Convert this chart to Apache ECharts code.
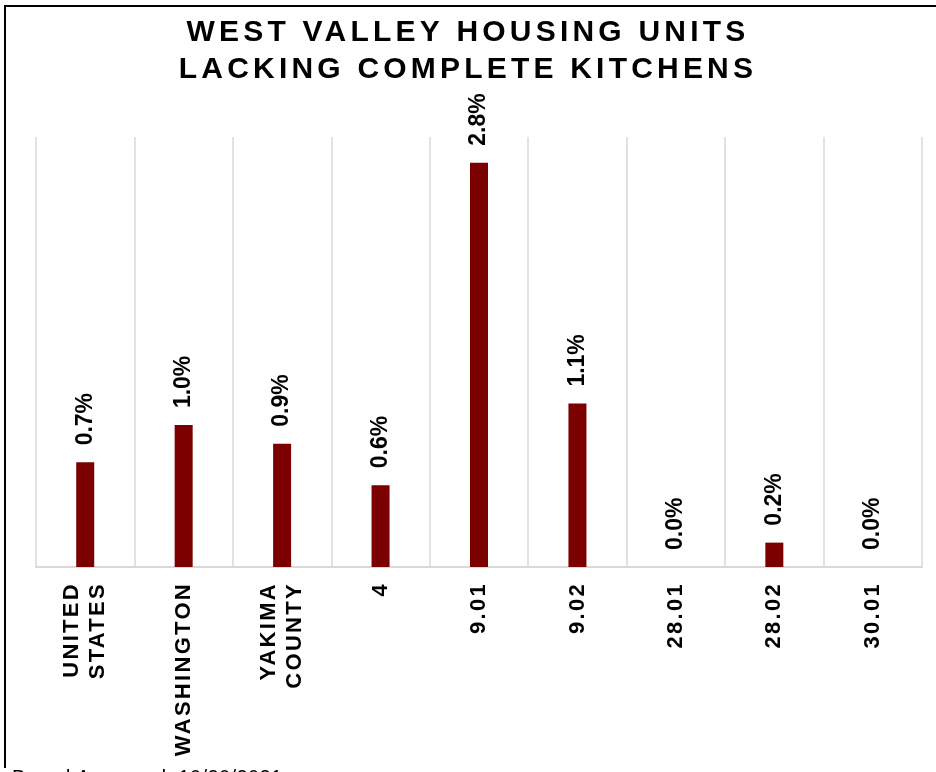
<!DOCTYPE html>
<html>
<head>
<meta charset="utf-8">
<title>West Valley Housing Units Lacking Complete Kitchens</title>
<script src="https://cdn.jsdelivr.net/npm/echarts@6/dist/echarts.min.js"></script>
<style>
  html, body { margin: 0; padding: 0; background: #fff; }
  #chart { width: 936px; height: 772px; }
</style>
</head>
<body>
<div id="chart"></div>
<script>
// data
const categories = ['UNITED\nSTATES', 'WASHINGTON', 'YAKIMA\nCOUNTY', '4', '9.01', '9.02', '28.01', '28.02', '30.01'];
const pctLacking = [0.73, 0.99, 0.86, 0.57, 2.82, 1.14, 0, 0.17, 0];

const FONT = "'Liberation Sans', Arial, sans-serif";
const BAR_COLOR = '#7b0000';
const GRID_COLOR = '#d9d9d9';

// the original uses expanded character spacing, zrender has no option for it,
// so set it on the canvas per font size right before text is drawn
const SPACING = { '30': '4.2px', '22': '2.3px', '20': '0.4px' };
const origFillText = CanvasRenderingContext2D.prototype.fillText;
CanvasRenderingContext2D.prototype.fillText = function (text, x, y, maxWidth) {
    const m = /([\d.]+)px/.exec(this.font);
    this.letterSpacing = (m && SPACING[m[1]]) || '0px';
    if (maxWidth === undefined) return origFillText.call(this, text, x, y);
    return origFillText.call(this, text, x, y, maxWidth);
};

const chart = echarts.init(document.getElementById('chart'), null, { renderer: 'canvas' });

const option = {
    animation: false,
    backgroundColor: '#fff',
    title: {
        text: 'WEST VALLEY HOUSING UNITS\nLACKING COMPLETE KITCHENS',
        left: 'center',
        top: 9,
        textStyle: {
            fontFamily: FONT,
            fontSize: 30,
            fontWeight: 'bold',
            lineHeight: 37,
            color: '#000'
        }
    },
    grid: {
        left: 36,
        right: 14,
        top: 137,
        bottom: 205
    },
    xAxis: {
        type: 'category',
        data: categories,
        axisTick: { show: false },
        axisLine: { lineStyle: { color: GRID_COLOR, width: 2 } },
        splitLine: { show: true, lineStyle: { color: GRID_COLOR, width: 1.5 } },
        axisLabel: {
            interval: 0,
            rotate: 90,
            margin: 15,
            fontFamily: FONT,
            fontSize: 22,
            fontWeight: 'bold',
            lineHeight: 26,
            color: '#000'
        }
    },
    yAxis: {
        type: 'value',
        min: 0,
        max: 3,
        show: false
    },
    series: [{
        type: 'bar',
        data: pctLacking,
        barWidth: 18,
        itemStyle: { color: BAR_COLOR },
        label: {
            show: true,
            position: 'top',
            distance: 17,
            rotate: 90,
            align: 'left',
            verticalAlign: 'middle',
            fontFamily: FONT,
            fontSize: 23,
            fontWeight: 'bold',
            color: '#000',
            formatter: (p) => p.value.toFixed(1) + '%'
        }
    }],
    graphic: [
        {
            type: 'line',
            shape: { x1: 4, y1: 6, x2: 936, y2: 6 },
            style: { stroke: '#000', lineWidth: 2 }
        },
        {
            type: 'line',
            shape: { x1: 5, y1: 5, x2: 5, y2: 768 },
            style: { stroke: '#000', lineWidth: 2 }
        },
        {
            type: 'text',
            x: 12,
            y: 768,
            style: {
                text: 'Based Accessed: 10/20/2021',
                font: '20px ' + FONT,
                fill: '#000'
            }
        }
    ]
};

chart.setOption(option);
</script>
</body>
</html>
